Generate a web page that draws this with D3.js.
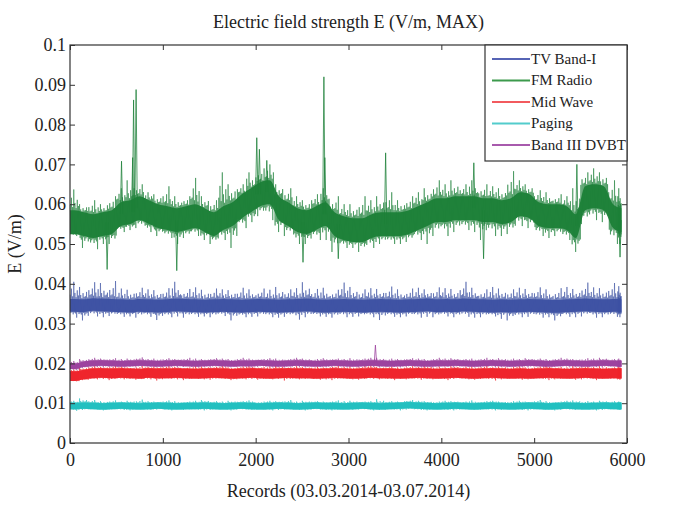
<!DOCTYPE html>
<html>
<head>
<meta charset="utf-8">
<script src="https://cdn.jsdelivr.net/npm/d3@7/dist/d3.min.js"></script>
<style>
  html, body { margin: 0; padding: 0; background: #fff; }
  svg { display: block; }
</style>
</head>
<body>
<svg id="chart" width="673" height="506"></svg>
<script>
// ---- data (bins of 100 records; values in V/m) ----
const binStart = [0,100,200,300,400,500,600,700,800,900,1000,1100,1200,1300,1400,1500,1600,1700,1800,1900,
  2000,2100,2200,2300,2400,2500,2600,2700,2800,2900,3000,3100,3200,3300,3400,3500,3600,3700,3800,3900,
  4000,4100,4200,4300,4400,4500,4600,4700,4800,4900,5000,5100,5200,5300,5400,5500,5600,5700,5800,5900];
const lastRecord = 5940;

const seriesNames = ["TV Band-I", "FM Radio", "Mid Wave", "Paging", "Band III DVBT"];

const tvMean = [0.0346,0.0345,0.0348,0.0347,0.0346,0.0345,0.0344,0.0346,0.0345,0.0344,
  0.0345,0.0347,0.0346,0.0345,0.0344,0.0345,0.0346,0.0345,0.0344,0.0345,
  0.0346,0.0345,0.0344,0.0345,0.0346,0.0347,0.0345,0.0344,0.0345,0.0346,
  0.0345,0.0344,0.0345,0.0346,0.0345,0.0344,0.0345,0.0346,0.0347,0.0345,
  0.0346,0.0345,0.0347,0.0346,0.0345,0.0344,0.0345,0.0344,0.0345,0.0346,
  0.0345,0.0344,0.0343,0.0345,0.0346,0.0347,0.0346,0.0345,0.0346,0.0345];
const tvHi = [0.0405,0.0392,0.0404,0.0402,0.0407,0.0388,0.0385,0.0390,0.0386,0.0384,
  0.0389,0.0405,0.0387,0.0391,0.0385,0.0388,0.0386,0.0384,0.0390,0.0386,
  0.0388,0.0385,0.0392,0.0386,0.0389,0.0404,0.0387,0.0390,0.0385,0.0403,
  0.0392,0.0386,0.0389,0.0387,0.0393,0.0386,0.0388,0.0390,0.0386,0.0391,
  0.0389,0.0387,0.0405,0.0390,0.0386,0.0392,0.0388,0.0386,0.0390,0.0387,
  0.0391,0.0386,0.0389,0.0392,0.0387,0.0403,0.0391,0.0389,0.0402,0.0394];
const tvLo = [0.0315,0.0308,0.0318,0.0316,0.0319,0.0317,0.0318,0.0315,0.0317,0.0309,
  0.0316,0.0318,0.0315,0.0317,0.0318,0.0316,0.0319,0.0308,0.0316,0.0317,
  0.0318,0.0316,0.0315,0.0317,0.0310,0.0316,0.0318,0.0317,0.0315,0.0316,
  0.0317,0.0318,0.0316,0.0309,0.0317,0.0316,0.0318,0.0315,0.0317,0.0316,
  0.0318,0.0316,0.0317,0.0315,0.0316,0.0318,0.0312,0.0308,0.0316,0.0317,
  0.0315,0.0316,0.0308,0.0317,0.0316,0.0318,0.0315,0.0316,0.0317,0.0316];

const fmMean = [0.0555,0.0550,0.0545,0.0550,0.0555,0.0575,0.0580,0.0590,0.0580,0.0570,
  0.0565,0.0560,0.0565,0.0570,0.0560,0.0550,0.0565,0.0575,0.0595,0.0610,
  0.0625,0.0630,0.0590,0.0575,0.0560,0.0555,0.0565,0.0575,0.0550,0.0540,
  0.0535,0.0535,0.0545,0.0550,0.0550,0.0550,0.0555,0.0565,0.0575,0.0585,
  0.0585,0.0590,0.0590,0.0590,0.0585,0.0585,0.0580,0.0585,0.0600,0.0595,
  0.0575,0.0570,0.0570,0.0565,0.0545,0.0615,0.0620,0.0615,0.0570,0.0560];
const fmHi = [0.0637,0.0600,0.0610,0.0600,0.0620,0.0640,0.0660,0.0650,0.0630,0.0625,
  0.0645,0.0620,0.0620,0.0666,0.0620,0.0610,0.0680,0.0650,0.0650,0.0680,
  0.0690,0.0700,0.0650,0.0640,0.0620,0.0610,0.0625,0.0640,0.0620,0.0600,
  0.0600,0.0620,0.0610,0.0620,0.0630,0.0610,0.0620,0.0630,0.0640,0.0660,
  0.0650,0.0660,0.0650,0.0660,0.0650,0.0645,0.0640,0.0683,0.0660,0.0650,
  0.0635,0.0630,0.0625,0.0620,0.0640,0.0680,0.0690,0.0680,0.0660,0.0640];
const fmLo = [0.0520,0.0490,0.0487,0.0500,0.0500,0.0530,0.0535,0.0540,0.0530,0.0520,
  0.0515,0.0500,0.0515,0.0520,0.0510,0.0500,0.0510,0.0490,0.0540,0.0555,
  0.0570,0.0560,0.0530,0.0520,0.0500,0.0500,0.0510,0.0510,0.0480,0.0490,
  0.0490,0.0480,0.0490,0.0500,0.0500,0.0500,0.0505,0.0510,0.0500,0.0520,
  0.0520,0.0530,0.0535,0.0530,0.0510,0.0520,0.0520,0.0525,0.0545,0.0540,
  0.0520,0.0515,0.0520,0.0510,0.0480,0.0550,0.0560,0.0555,0.0500,0.0500];
// isolated FM peaks and dips (record, value)
const fmPeakRecords = [555, 675, 685, 712, 2012, 2040, 2120, 2735, 2745, 3400, 4350, 5460];
const fmPeakValues  = [0.0708, 0.0717, 0.0862, 0.0888, 0.0767, 0.0738, 0.0710, 0.0920, 0.0717, 0.0729, 0.0704, 0.0700];
const fmDipRecords = [400, 1150, 2510, 2890, 4455, 5925];
const fmDipValues  = [0.0436, 0.0433, 0.0454, 0.0463, 0.0463, 0.0467];

const mwMean = [0.0168,0.0172,0.0175,0.0176,0.0175,0.0176,0.0175,0.0174,0.0176,0.0175,
  0.0175,0.0176,0.0175,0.0174,0.0175,0.0176,0.0175,0.0174,0.0175,0.0176,
  0.0175,0.0174,0.0175,0.0176,0.0175,0.0175,0.0174,0.0175,0.0176,0.0175,
  0.0174,0.0175,0.0176,0.0175,0.0175,0.0174,0.0175,0.0176,0.0175,0.0174,
  0.0175,0.0176,0.0175,0.0174,0.0175,0.0176,0.0175,0.0174,0.0175,0.0174,
  0.0175,0.0176,0.0175,0.0174,0.0175,0.0176,0.0175,0.0174,0.0175,0.0175];
const mwHi = [0.0185,0.0190,0.0193,0.0191,0.0194,0.0192,0.0190,0.0193,0.0191,0.0192,
  0.0194,0.0191,0.0190,0.0193,0.0192,0.0191,0.0194,0.0190,0.0192,0.0193,
  0.0191,0.0192,0.0194,0.0190,0.0193,0.0191,0.0192,0.0190,0.0194,0.0191,
  0.0192,0.0193,0.0195,0.0191,0.0192,0.0190,0.0193,0.0191,0.0194,0.0192,
  0.0190,0.0193,0.0191,0.0192,0.0194,0.0190,0.0192,0.0191,0.0193,0.0190,
  0.0192,0.0194,0.0191,0.0190,0.0193,0.0192,0.0191,0.0193,0.0190,0.0192];
const mwLo = [0.0155,0.0158,0.0160,0.0161,0.0158,0.0160,0.0161,0.0159,0.0160,0.0157,
  0.0161,0.0160,0.0158,0.0161,0.0160,0.0159,0.0161,0.0158,0.0160,0.0161,
  0.0159,0.0160,0.0161,0.0157,0.0160,0.0161,0.0159,0.0160,0.0158,0.0161,
  0.0160,0.0159,0.0161,0.0160,0.0158,0.0161,0.0160,0.0159,0.0161,0.0160,
  0.0158,0.0161,0.0160,0.0159,0.0161,0.0157,0.0160,0.0161,0.0159,0.0160,
  0.0161,0.0158,0.0160,0.0161,0.0159,0.0160,0.0158,0.0161,0.0160,0.0159];

const pgMean = [0.0093,0.0094,0.0093,0.0092,0.0093,0.0094,0.0093,0.0092,0.0093,0.0094,
  0.0093,0.0092,0.0093,0.0093,0.0094,0.0093,0.0092,0.0093,0.0094,0.0093,
  0.0092,0.0093,0.0094,0.0093,0.0092,0.0093,0.0094,0.0093,0.0093,0.0092,
  0.0093,0.0094,0.0093,0.0092,0.0093,0.0094,0.0095,0.0094,0.0093,0.0092,
  0.0093,0.0094,0.0093,0.0092,0.0093,0.0094,0.0093,0.0092,0.0093,0.0094,
  0.0093,0.0092,0.0093,0.0094,0.0093,0.0092,0.0093,0.0094,0.0093,0.0093];
const pgHi = [0.0106,0.0112,0.0108,0.0105,0.0107,0.0104,0.0106,0.0109,0.0105,0.0104,
  0.0107,0.0105,0.0104,0.0106,0.0108,0.0105,0.0104,0.0106,0.0105,0.0107,
  0.0104,0.0106,0.0105,0.0108,0.0104,0.0106,0.0105,0.0104,0.0107,0.0105,
  0.0106,0.0104,0.0105,0.0110,0.0105,0.0104,0.0108,0.0106,0.0105,0.0104,
  0.0106,0.0105,0.0104,0.0107,0.0105,0.0106,0.0104,0.0105,0.0106,0.0104,
  0.0108,0.0105,0.0104,0.0106,0.0107,0.0105,0.0104,0.0106,0.0105,0.0104];
const pgLo = [0.0081,0.0083,0.0084,0.0082,0.0084,0.0083,0.0082,0.0084,0.0083,0.0084,
  0.0082,0.0084,0.0083,0.0084,0.0082,0.0083,0.0084,0.0082,0.0084,0.0083,
  0.0084,0.0082,0.0083,0.0084,0.0083,0.0082,0.0084,0.0083,0.0082,0.0084,
  0.0083,0.0084,0.0082,0.0083,0.0084,0.0082,0.0084,0.0083,0.0082,0.0084,
  0.0083,0.0082,0.0084,0.0083,0.0084,0.0082,0.0083,0.0084,0.0083,0.0082,
  0.0084,0.0083,0.0082,0.0084,0.0083,0.0084,0.0082,0.0083,0.0084,0.0083];

const dvMean = [0.0193,0.0198,0.0200,0.0201,0.0200,0.0199,0.0200,0.0201,0.0200,0.0199,
  0.0200,0.0201,0.0200,0.0199,0.0200,0.0201,0.0200,0.0199,0.0200,0.0200,
  0.0201,0.0200,0.0199,0.0200,0.0201,0.0200,0.0199,0.0200,0.0201,0.0200,
  0.0199,0.0200,0.0201,0.0200,0.0199,0.0200,0.0201,0.0200,0.0199,0.0200,
  0.0200,0.0201,0.0200,0.0199,0.0200,0.0201,0.0200,0.0199,0.0200,0.0201,
  0.0200,0.0199,0.0200,0.0201,0.0200,0.0199,0.0200,0.0201,0.0200,0.0199];
const dvHi = [0.0206,0.0211,0.0214,0.0212,0.0213,0.0211,0.0212,0.0215,0.0211,0.0212,
  0.0213,0.0211,0.0214,0.0212,0.0211,0.0213,0.0212,0.0211,0.0214,0.0212,
  0.0211,0.0213,0.0212,0.0211,0.0214,0.0212,0.0211,0.0213,0.0212,0.0211,
  0.0213,0.0212,0.0214,0.0214,0.0212,0.0211,0.0213,0.0212,0.0211,0.0214,
  0.0212,0.0213,0.0211,0.0212,0.0214,0.0211,0.0213,0.0212,0.0211,0.0213,
  0.0212,0.0211,0.0214,0.0212,0.0211,0.0213,0.0212,0.0214,0.0211,0.0212];
const dvLo = [0.0183,0.0189,0.0191,0.0190,0.0191,0.0190,0.0191,0.0190,0.0191,0.0190,
  0.0191,0.0190,0.0191,0.0190,0.0191,0.0190,0.0191,0.0190,0.0191,0.0190,
  0.0191,0.0190,0.0191,0.0190,0.0191,0.0190,0.0191,0.0190,0.0191,0.0190,
  0.0191,0.0190,0.0191,0.0190,0.0191,0.0190,0.0191,0.0190,0.0191,0.0190,
  0.0191,0.0190,0.0191,0.0190,0.0191,0.0190,0.0191,0.0190,0.0191,0.0190,
  0.0191,0.0190,0.0191,0.0190,0.0191,0.0190,0.0191,0.0190,0.0191,0.0190];
const dvPeakRecords = [3290];
const dvPeakValues  = [0.0246];

// core (dense) half-width of each band, V/m
const coreHalf = [0.0016, 0.0030, 0.0012, 0.0008, 0.0007];

const xTicks = [0,1000,2000,3000,4000,5000,6000];
const xTickLabels = ["0","1000","2000","3000","4000","5000","6000"];
const yTicks = [0,0.01,0.02,0.03,0.04,0.05,0.06,0.07,0.08,0.09,0.1];
const yTickLabels = ["0","0.01","0.02","0.03","0.04","0.05","0.06","0.07","0.08","0.09","0.1"];

// ---- layout / style ----
const FONT = "'Liberation Serif', 'DejaVu Serif', serif";
const colors = ["#3c50a2", "#1b7f37", "#ee2229", "#1fbfbf", "#9b3f9d"];
const legendColors = ["#5664b5", "#3c9a4c", "#f25a5e", "#52cccc", "#a85aad"];
const L = 70, R = 627, T = 45, B = 443;
// rendering glyph for the dense trace inside one bin: relative reach of successive up/down strokes
const upReach = [0.25, 0.6, 0.15, 1.0, 0.35, 0.1, 0.5, 0.2];
const downReach = [0.2, 0.1, 0.45, 0.15, 0.3, 1.0, 0.1, 0.4];

const svg = d3.select("#chart");
const x = d3.scaleLinear().domain([0, 6000]).range([L, R]);
const y = d3.scaleLinear().domain([0, 0.1]).range([B, T]);

const series = [
  {mean: tvMean, hi: tvHi, lo: tvLo, peaks: [], dips: []},
  {mean: fmMean, hi: fmHi, lo: fmLo,
   peaks: fmPeakRecords.map((r, i) => ({r, v: fmPeakValues[i]})),
   dips: fmDipRecords.map((r, i) => ({r, v: fmDipValues[i]}))},
  {mean: mwMean, hi: mwHi, lo: mwLo, peaks: [], dips: []},
  {mean: pgMean, hi: pgHi, lo: pgLo, peaks: [], dips: []},
  {mean: dvMean, hi: dvHi, lo: dvLo,
   peaks: dvPeakRecords.map((r, i) => ({r, v: dvPeakValues[i]})), dips: []}
];

const binOf = r => Math.min(binStart.length - 1, Math.floor(r / 100));

const plot = svg.append("g");
series.forEach((s, k) => {
  const c = colors[k];
  const ch = coreHalf[k];
  const core = binStart.map((b, i) => ({r: Math.min(b + 50, lastRecord), m: s.mean[i]}));
  core.unshift({r: 0, m: s.mean[0]});
  core.push({r: lastRecord, m: s.mean[s.mean.length - 1]});
  const pts = [];
  const n = upReach.length;
  binStart.forEach((b, i) => {
    const w = (i === binStart.length - 1) ? (lastRecord - b) : 100;
    const m = s.mean[i];
    for (let j = 0; j < n; j++) {
      const jj = (j + i * 3) % n;
      pts.push({r: b + w * (j + 0.25) / n, v: m + ch + upReach[jj] * (s.hi[i] - m - ch)});
      pts.push({r: b + w * (j + 0.75) / n, v: m - ch - downReach[jj] * (m - ch - s.lo[i])});
    }
  });
  plot.append("path")
    .attr("d", d3.line().x(d => x(d.r)).y(d => y(d.v))(pts))
    .attr("fill", "none").attr("stroke", c).attr("stroke-width", 0.7).attr("stroke-opacity", 0.8);
  // isolated peaks / dips
  const spikes = s.peaks.map(p => ({r: p.r, v: p.v, base: s.mean[binOf(p.r)]}))
    .concat(s.dips.map(p => ({r: p.r, v: p.v, base: s.mean[binOf(p.r)]})));
  plot.append("g").selectAll("path").data(spikes).join("path")
    .attr("d", d => `M${x(d.r) - 1.2},${y(d.base)}L${x(d.r)},${y(d.v)}L${x(d.r) + 1.2},${y(d.base)}`)
    .attr("fill", "none").attr("stroke", c).attr("stroke-width", 0.9).attr("stroke-opacity", 0.85);
  plot.append("path")
    .attr("d", d3.area().curve(d3.curveMonotoneX).x(d => x(d.r)).y0(d => y(d.m - ch)).y1(d => y(d.m + ch))(core))
    .attr("fill", c).attr("stroke", "none").attr("fill-opacity", 0.95);
});

// ---- axes (inward ticks, box) ----
const axisColor = "#333";
const gx = svg.append("g").attr("transform", `translate(0,${B})`)
  .call(d3.axisBottom(x).tickValues(xTicks).tickFormat((d, i) => xTickLabels[i]).tickSizeInner(-5).tickSizeOuter(0).tickPadding(10));
const gy = svg.append("g").attr("transform", `translate(${L},0)`)
  .call(d3.axisLeft(y).tickValues(yTicks).tickFormat((d, i) => yTickLabels[i]).tickSizeInner(-5).tickSizeOuter(0).tickPadding(4));
const gt = svg.append("g").attr("transform", `translate(0,${T})`)
  .call(d3.axisTop(x).tickValues(xTicks).tickFormat("").tickSizeInner(-5).tickSizeOuter(0));
const gr = svg.append("g").attr("transform", `translate(${R},0)`)
  .call(d3.axisRight(y).tickValues(yTicks).tickFormat("").tickSizeInner(-5).tickSizeOuter(0));
[gx, gy, gt, gr].forEach(g => {
  g.attr("font-family", null);
  g.selectAll(".domain").remove();
  g.selectAll("line").attr("stroke", axisColor).attr("stroke-width", 1);
  g.selectAll("text").style("font-family", FONT).style("font-size", "18px").attr("fill", "#222");
});
svg.append("rect").attr("x", L).attr("y", T).attr("width", R - L).attr("height", B - T)
  .attr("fill", "none").attr("stroke", axisColor).attr("stroke-width", 1.2);

// ---- titles ----
const txt = (s) => s.style("font-family", FONT).attr("fill", "#222");
txt(svg.append("text")).attr("x", (L + R) / 2).attr("y", 28).attr("text-anchor", "middle")
  .style("font-size", "18px").text("Electric field strength E (V/m, MAX)");
txt(svg.append("text")).attr("x", (L + R) / 2).attr("y", 497).attr("text-anchor", "middle")
  .style("font-size", "18px").text("Records (03.03.2014-03.07.2014)");
txt(svg.append("text")).attr("transform", `translate(21,${(T + B) / 2}) rotate(-90)`).attr("text-anchor", "middle")
  .style("font-size", "18px").text("E (V/m)");

// ---- legend ----
const lg = svg.append("g");
lg.append("rect").attr("x", 485).attr("y", T).attr("width", R - 485).attr("height", 116)
  .attr("fill", "#fff").attr("stroke", axisColor).attr("stroke-width", 1.2);
seriesNames.forEach((n, i) => {
  const yy = 59 + i * 21.5;
  lg.append("line").attr("x1", 492).attr("x2", 530).attr("y1", yy).attr("y2", yy)
    .attr("stroke", legendColors[i]).attr("stroke-width", 2);
  txt(lg.append("text")).attr("x", 531).attr("y", yy).attr("dy", "0.33em").style("font-size", "15px").text(n);
});
</script>
</body>
</html>
